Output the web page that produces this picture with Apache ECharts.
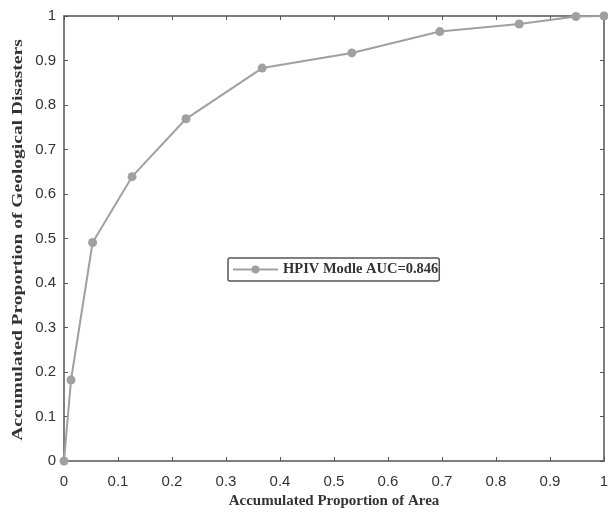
<!DOCTYPE html>
<html><head><meta charset="utf-8">
<script src="https://cdn.jsdelivr.net/npm/echarts@6/dist/echarts.min.js"></script>
<style>html,body{margin:0;padding:0;background:#fff}#c{width:608px;height:512px}</style>
</head><body><div id="c"></div>
<script>
const xValues = [0, 0.013, 0.053, 0.126, 0.226, 0.367, 0.533, 0.696, 0.843, 0.948, 1];
const yValues = [0, 0.182, 0.491, 0.639, 0.769, 0.883, 0.917, 0.965, 0.982, 0.999, 1];
const seriesName = 'HPIV Modle AUC=0.846';
const xTitle = 'Accumulated Proportion of Area';
const yTitle = 'Accumulated Proportion of Geological Disasters';

const axisColor = '#555';
const labelFmt = v => (Math.abs(v - 1) < 1e-9 ? '1' : (Math.abs(v) < 1e-9 ? '0' : v.toFixed(1)));
const chart = echarts.init(document.getElementById('c'), null, {renderer: 'canvas'});
const baseAxis = {
  type: 'value', min: 0, max: 1, interval: 0.1,
  axisLine: {show: true, onZero: false, lineStyle: {color: axisColor, width: 1.5}},
  axisTick: {show: true, inside: true, length: 4, lineStyle: {color: axisColor}},
  splitLine: {show: false}
};
const labelStyle = {formatter: labelFmt, fontFamily: 'Liberation Sans', fontSize: 15, color: '#333'};
chart.setOption({
  animation: false,
  grid: {left: 64, right: 4, top: 16, bottom: 51, containLabel: false, outerBoundsMode: 'none'},
  legend: {
    left: 228, top: 258,
    data: [seriesName],
    itemWidth: 45, itemHeight: 10, itemGap: 5,
    padding: [4, 1, 4, 4],
    borderColor: '#555', borderWidth: 1.5, borderRadius: 2,
    textStyle: {fontFamily: 'Liberation Serif', fontWeight: 'bold', fontSize: 14.5, color: '#333'}
  },
  xAxis: [
    Object.assign({}, baseAxis, {
      position: 'bottom',
      name: xTitle, nameLocation: 'middle', nameGap: 31,
      nameTextStyle: {fontFamily: 'Liberation Serif', fontWeight: 'bold', fontSize: 15, color: '#333'},
      axisLabel: Object.assign({}, labelStyle, {margin: 13})
    }),
    Object.assign({}, baseAxis, {position: 'top', axisLabel: {show: false}})
  ],
  yAxis: [
    Object.assign({}, baseAxis, {
      position: 'left',
      axisLabel: Object.assign({}, labelStyle, {margin: 8})
    }),
    Object.assign({}, baseAxis, {position: 'right', axisLabel: {show: false}})
  ],
  graphic: [{
    type: 'text', x: 18, y: 240, rotation: Math.PI / 2, scaleX: 1.3,
    style: {text: yTitle, fontFamily: 'Liberation Serif', fontWeight: 'bold', fontSize: 15,
      fill: '#333', align: 'center', verticalAlign: 'middle'}
  }],
  series: [{
    name: seriesName, type: 'line',
    data: xValues.map((x, i) => [x, yValues[i]]),
    symbol: 'circle', symbolSize: 9,
    lineStyle: {color: '#a0a0a0', width: 2},
    itemStyle: {color: '#a0a0a0'},
    clip: false
  }]
});
</script></body></html>
